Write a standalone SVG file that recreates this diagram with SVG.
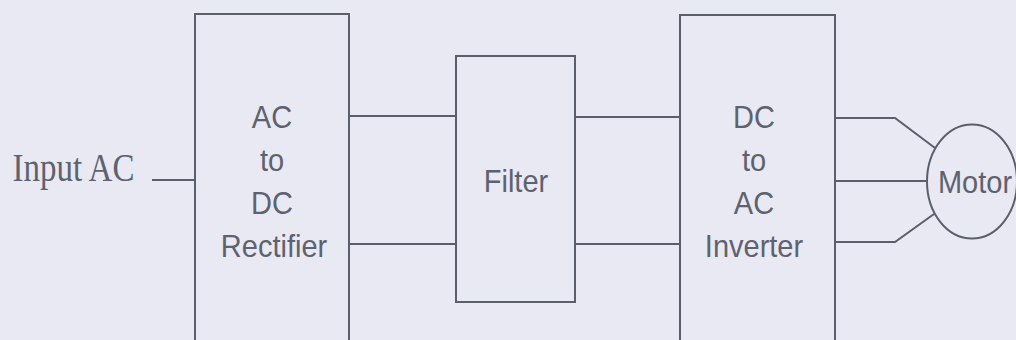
<svg xmlns="http://www.w3.org/2000/svg" width="1016" height="340" viewBox="0 0 1016 340">
  <style>
    .box { fill: none; stroke: #5b5f6b; stroke-width: 2; }
    .wire { fill: none; stroke: #5b5f6b; stroke-width: 2; }
    .lbl { font-family: "Liberation Sans", Arial, sans-serif; font-size: 29px; fill: #5e626e; text-anchor: middle; }
    .serif { font-family: "Liberation Serif", "Times New Roman", serif; font-size: 33px; fill: #5e626e; }
  </style>
  <rect width="1016" height="340" fill="#e9e9f3"/>

  <g id="input-label">
    <text class="serif" transform="translate(12.5,181) scale(1,1.2)">Input AC</text>
  </g>

  <g id="rectifier">
    <rect class="box" x="195" y="14" width="154" height="340"/>
    <text class="lbl" transform="translate(272,128) scale(1,1.08)">AC</text>
    <text class="lbl" transform="translate(272,171) scale(1,1.08)">to</text>
    <text class="lbl" transform="translate(272,214) scale(1,1.08)">DC</text>
    <text class="lbl" transform="translate(274,257) scale(1,1.08)">Rectifier</text>
  </g>

  <g id="filter">
    <rect class="box" x="456" y="56" width="119" height="246"/>
    <text class="lbl" transform="translate(516,192) scale(1,1.1)">Filter</text>
  </g>

  <g id="inverter">
    <rect class="box" x="680" y="15" width="155" height="340"/>
    <text class="lbl" transform="translate(754,128) scale(1,1.08)">DC</text>
    <text class="lbl" transform="translate(754,171) scale(1,1.08)">to</text>
    <text class="lbl" transform="translate(754,214) scale(1,1.08)">AC</text>
    <text class="lbl" transform="translate(754,257) scale(1,1.08)">Inverter</text>
  </g>

  <g id="motor">
    <ellipse class="box" cx="972" cy="181.5" rx="45" ry="57"/>
    <text class="lbl" transform="translate(975,193) scale(1,1.1)">Motor</text>
  </g>

  <g id="connectors">
    <path class="wire" d="M152,180 H195"/>
    <path class="wire" d="M349,116 H456"/>
    <path class="wire" d="M349,244 H456"/>
    <path class="wire" d="M575,117 H680"/>
    <path class="wire" d="M575,244 H680"/>
    <path class="wire" d="M835,118 H895 L935,148"/>
    <path class="wire" d="M835,181 H927"/>
    <path class="wire" d="M835,242 H895 L934,214"/>
  </g>
</svg>
